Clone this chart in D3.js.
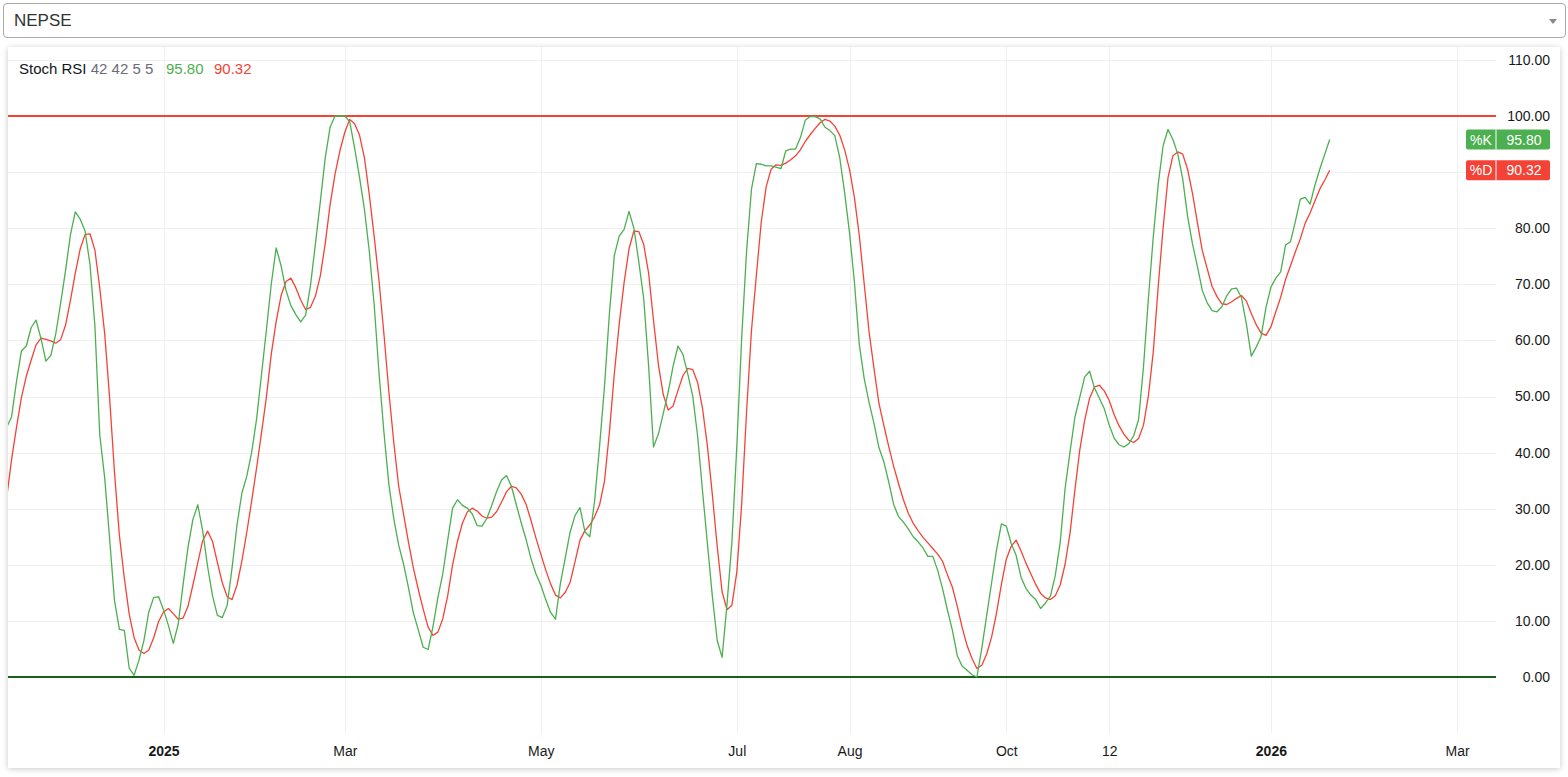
<!DOCTYPE html>
<html><head><meta charset="utf-8">
<script src="https://cdn.jsdelivr.net/npm/d3@7"></script>
<style>
html,body{margin:0;padding:0;background:#fff;width:1568px;height:777px;overflow:hidden;font-family:"Liberation Sans",Arial,sans-serif;}
#sel{position:absolute;left:3px;top:3px;width:1563px;height:35px;box-sizing:border-box;border:1px solid #aaa;border-radius:4px;background:#fff;}
#sel span{position:absolute;left:10px;top:0;line-height:33px;font-size:17px;color:#333;}
#sel .arrow{position:absolute;right:8px;top:15px;width:0;height:0;border-left:4.5px solid transparent;border-right:4.5px solid transparent;border-top:5px solid #888;}
#card{position:absolute;left:8px;top:47px;width:1552px;height:721px;background:#fff;box-shadow:0 1px 6px rgba(0,0,0,0.22);}
svg{position:absolute;left:0;top:0;}
</style></head>
<body>
<div id="sel"><span>NEPSE</span><div class="arrow"></div></div>
<div id="card"></div>
<svg id="chart" width="1568" height="777"></svg>
<script>
// ---- data ----
const kValues = [
 44.5,46.4,52.7,58.1,59.0,62.3,63.6,60.3,56.3,57.3,
 61.1,66.6,72.4,78.8,82.9,81.6,79.5,73.5,62.6,43.1,
 35.5,24.7,13.6,8.5,8.3,1.6,0.3,3.0,6.5,11.6,
 14.2,14.3,12.0,9.2,6.0,9.4,16.5,23.1,28.1,30.7,
 26.0,19.7,14.5,11.0,10.6,12.8,19.5,27.1,32.8,35.8,
 40.1,46.0,53.9,61.9,70.1,76.5,73.3,68.9,66.2,64.6,
 63.3,64.5,69.8,77.2,84.7,92.5,98.0,100,100,100,
 99.0,94.3,89.1,83.4,75.9,66.3,54.0,43.5,34.3,28.2,
 23.5,20.1,15.9,11.4,8.4,5.3,4.9,9.0,14.2,18.4,
 24.4,30.1,31.6,30.6,30.1,29.1,27.0,26.9,28.3,30.6,
 33.1,35.1,35.9,34.0,30.7,27.5,24.5,21.1,18.4,16.4,
 13.8,11.5,10.3,16.7,21.3,25.9,28.8,30.2,25.9,25.0,
 31.5,41.2,51.8,64.8,75.1,78.6,79.8,83.0,80.0,74.0,
 67.5,55.5,41.0,43.3,47.0,50.8,55.4,59.0,57.5,54.0,
 50.1,43.0,33.2,23.8,14.5,6.5,3.5,13.0,24.0,41.1,
 60.5,76.0,87.0,91.5,91.4,91.1,91.1,90.9,90.6,93.8,
 94.1,94.1,96.2,99.3,99.9,99.9,99.5,98.0,97.4,96.5,
 92.6,86.4,79.2,70.4,59.3,53.2,48.9,45.2,40.9,38.4,
 34.8,30.8,28.6,27.6,26.4,25.0,24.1,23.0,21.5,21.5,
 19.0,15.7,11.9,8.3,3.8,1.9,1.2,0.4,0.0,5.1,
 11.0,16.8,22.6,27.3,26.9,23.8,21.7,17.8,15.8,14.6,
 13.8,12.2,13.2,14.4,18.1,24.0,33.6,40.1,46.3,49.9,
 53.5,54.5,51.5,49.7,47.8,44.9,42.6,41.4,41.0,41.6,
 43.0,45.9,55.3,67.5,78.5,87.8,94.7,97.6,95.8,93.2,
 88.8,82.1,77.2,73.2,68.9,66.7,65.3,65.1,66.0,68.0,
 69.2,69.3,67.6,62.9,57.2,58.8,60.7,65.9,69.5,71.1,
 72.2,77.0,77.6,81.2,85.2,85.5,84.3,87.7,90.6,93.2,
 95.8
];
const dValues = [
 32.0,38.8,44.5,49.8,53.6,56.5,59.2,60.4,60.2,59.9,
 59.5,60.1,62.7,67.1,72.0,76.3,78.9,79.0,76.1,69.3,
 61.2,49.8,36.5,25.2,17.7,11.2,7.0,4.8,4.2,4.8,
 7.0,9.9,11.6,12.2,11.3,10.3,10.5,12.6,16.4,20.4,
 24.3,26.0,24.2,20.4,16.8,14.3,13.8,16.4,20.7,25.8,
 31.4,37.3,43.5,49.9,57.6,63.4,68.0,70.5,71.1,69.4,
 67.2,65.5,65.9,67.9,71.5,77.2,84.2,89.6,93.8,97.1,
 99.4,98.6,96.6,92.6,86.0,78.5,70.5,61.0,50.8,41.8,
 34.0,29.0,24.0,19.4,15.6,12.1,8.9,7.4,8.0,10.4,
 14.5,20.0,24.2,27.4,29.4,30.1,29.6,28.7,28.3,28.5,
 29.5,31.2,33.0,34.0,33.7,32.6,30.8,27.9,24.8,21.9,
 19.1,16.6,14.6,14.1,15.1,16.9,20.6,24.4,26.1,27.1,
 28.6,30.7,34.9,43.6,54.0,62.9,70.3,76.3,79.5,79.4,
 77.1,72.0,63.6,55.7,50.3,47.6,48.3,51.1,53.7,55.0,
 54.8,52.5,47.9,41.2,32.6,23.3,15.2,12.0,12.8,18.7,
 30.9,47.4,61.8,71.7,81.2,87.4,90.5,91.3,91.2,91.6,
 92.2,92.9,94.0,95.5,96.7,97.8,98.8,99.4,99.1,98.2,
 96.6,94.0,90.5,85.5,78.7,70.1,61.5,55.0,48.8,44.9,
 41.1,37.6,34.5,31.6,29.2,27.4,26.1,24.9,23.9,22.9,
 21.9,20.6,18.2,16.0,12.6,8.8,5.6,3.3,1.5,2.1,
 4.1,7.1,11.4,16.5,21.0,23.3,24.4,22.5,20.3,18.4,
 16.5,14.9,14.1,13.8,14.5,16.4,20.1,25.6,33.3,40.5,
 45.8,49.7,51.7,52.0,51.0,49.3,46.8,44.8,43.3,42.2,
 41.8,42.5,44.9,50.1,58.0,69.6,80.0,89.0,92.9,93.6,
 93.2,90.5,86.2,81.0,76.0,72.8,69.6,67.8,66.5,66.4,
 66.9,67.5,68.0,67.0,64.8,62.8,61.3,60.9,62.4,65.1,
 67.7,70.9,73.3,75.8,78.1,80.9,82.7,84.9,87.0,88.6,
 90.32
];
const timeTickLabels = ["2025","Mar","May","Jul","Aug","Oct","12","2026","Mar"];
const timeTickIndex  = [32, 69, 109, 149, 172, 204, 225, 258, 296];
const timeTickBold   = ["2025","2026"];
const priceTicks = [0,10,20,30,40,50,60,70,80,90,100,110];
const levelLines = [{value:100, color:"#F44336"}, {value:0, color:"#1B5E20"}];
const legendName = "Stoch RSI";
const legendParams = "42 42 5 5";
const lastK = 95.80, lastD = 90.32;

// ---- layout ----
const pane = {left:8, right:1496, top:47, bottom:733};
const greenC = "#4CAF50", redC = "#F44336";
const svg = d3.select("#chart");
const x = d3.scaleLinear().domain([0, kValues.length-1]).range([6.7, 1329.7]);
const y = d3.scaleLinear().domain([0,110]).range([677, 59.9]);

svg.append("defs").append("clipPath").attr("id","pc")
  .append("rect").attr("x",pane.left).attr("y",pane.top)
  .attr("width",pane.right-pane.left).attr("height",pane.bottom-pane.top);

// grid
const grid = svg.append("g");
grid.selectAll("line.h").data(priceTicks).join("line")
  .attr("x1",pane.left).attr("x2",pane.right)
  .attr("y1",d=>Math.round(y(d))+0.5).attr("y2",d=>Math.round(y(d))+0.5)
  .attr("stroke","#f0f0f0").attr("stroke-width",1);
grid.selectAll("line.v").data(timeTickIndex).join("line")
  .attr("x1",d=>Math.round(x(d))+0.5).attr("x2",d=>Math.round(x(d))+0.5)
  .attr("y1",pane.top).attr("y2",pane.bottom)
  .attr("stroke","#f0f0f0").attr("stroke-width",1);

// level lines
svg.append("g").selectAll("line").data(levelLines).join("line")
  .attr("x1",pane.left).attr("x2",pane.right)
  .attr("y1",d=>y(d.value)).attr("y2",d=>y(d.value))
  .attr("stroke",d=>d.color).attr("stroke-width",2);

// series
const lineGen = d3.line().x((d,i)=>x(i)).y(d=>y(d));
const plot = svg.append("g").attr("clip-path","url(#pc)");
plot.append("path").datum(dValues).attr("d",lineGen)
  .attr("fill","none").attr("stroke",redC).attr("stroke-width",1.3).attr("stroke-linejoin","round");
plot.append("path").datum(kValues).attr("d",lineGen)
  .attr("fill","none").attr("stroke",greenC).attr("stroke-width",1.3).attr("stroke-linejoin","round");

// price badges data (also used to hide covered axis labels)
const badges = [{tag:"%K", v:lastK, c:greenC},{tag:"%D", v:lastD, c:redC}];
const visiblePriceTicks = priceTicks.filter(t => badges.every(b => Math.abs(y(t)-y(b.v)) > 14));

// price axis
const yAxis = svg.append("g").attr("transform","translate(1550,0)")
  .call(d3.axisLeft(y).tickValues(visiblePriceTicks).tickFormat(d3.format(".2f")).tickSize(0).tickPadding(0));
yAxis.select(".domain").remove();
yAxis.selectAll("text").attr("font-size",14).attr("font-family","Liberation Sans, Arial, sans-serif")
  .attr("fill","#191919");

// time axis
const xAxis = svg.append("g").attr("transform",`translate(0,${pane.bottom})`)
  .call(d3.axisBottom(x).tickValues(timeTickIndex).tickFormat((d,i)=>timeTickLabels[i]).tickSize(0).tickPadding(13));
xAxis.select(".domain").remove();
xAxis.selectAll("text").attr("font-size",14).attr("font-family","Liberation Sans, Arial, sans-serif")
  .attr("fill","#191919")
  .attr("font-weight",(d,i)=>timeTickBold.includes(timeTickLabels[i])?"bold":"normal");

// legend
const lg = svg.append("text").attr("x",19).attr("y",74).attr("font-size",15)
  .attr("font-family","Liberation Sans, Arial, sans-serif");
lg.append("tspan").attr("fill","#131722").text(legendName + " ");
lg.append("tspan").attr("fill","#6a6d78").text(legendParams);
lg.append("tspan").attr("x",166).attr("fill",greenC).text(lastK.toFixed(2));
lg.append("tspan").attr("x",214).attr("fill",redC).text(lastD.toFixed(2));

// price badges
const bg = svg.append("g").selectAll("g").data(badges).join("g")
  .attr("transform",d=>`translate(0,${y(d.v)})`);
bg.append("rect").attr("x",1466).attr("y",-10).attr("width",84).attr("height",20).attr("rx",2)
  .attr("fill",d=>d.c);
bg.append("line").attr("x1",1496).attr("x2",1496).attr("y1",-10).attr("y2",10)
  .attr("stroke","#fff").attr("stroke-width",1);
bg.append("text").attr("x",1481).attr("y",5).attr("text-anchor","middle").attr("font-size",14)
  .attr("font-family","Liberation Sans, Arial, sans-serif").attr("fill","#fff").text(d=>d.tag);
bg.append("text").attr("x",1524).attr("y",5).attr("text-anchor","middle").attr("font-size",14)
  .attr("font-family","Liberation Sans, Arial, sans-serif").attr("fill","#fff").text(d=>d.v.toFixed(2));
</script>
</body></html>
